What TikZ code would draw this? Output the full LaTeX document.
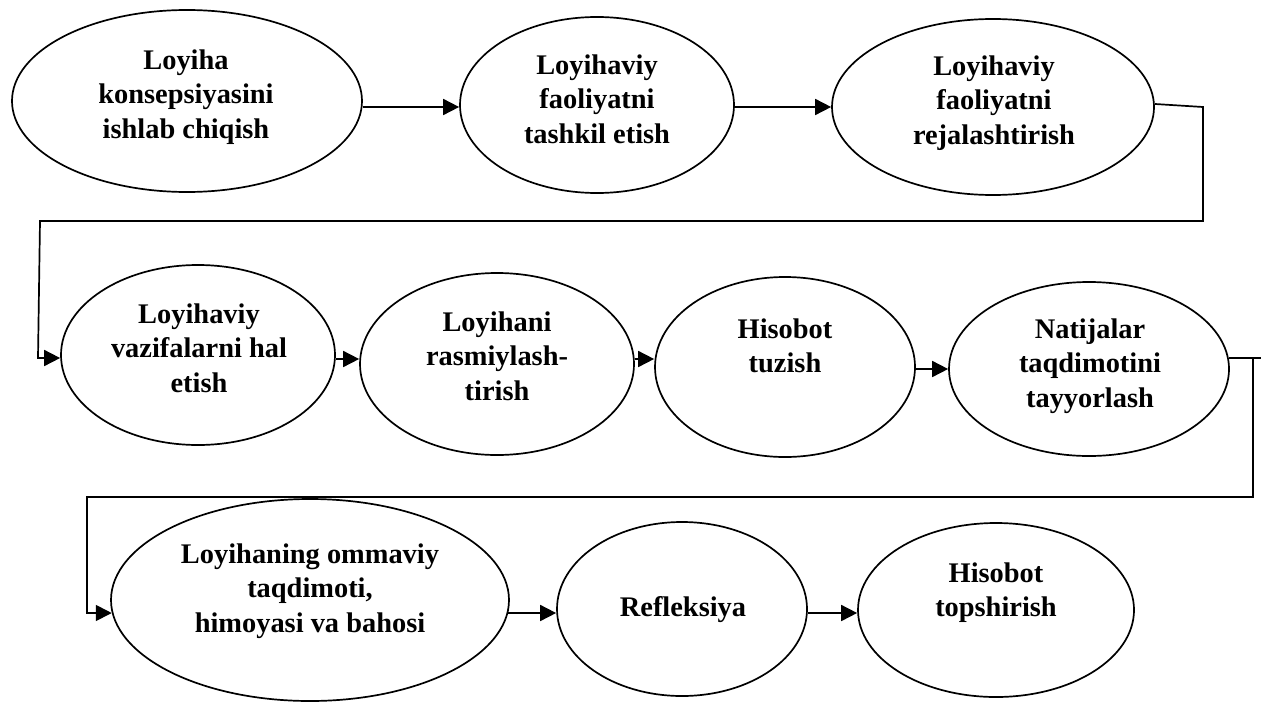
\documentclass[tikz,border=0pt]{standalone}
\usepackage{fontspec}
\setmainfont{Liberation Serif}
\usetikzlibrary{shapes.geometric,arrows.meta,calc}
\begin{document}
\begin{tikzpicture}[x=0.5pt,y=-0.5pt,
  blob/.style={ellipse,draw,line width=0.85pt,inner sep=0pt},
  txt/.style={anchor=north,align=center,inner sep=0pt,font=\fontsize{14.2}{17.25}\selectfont\bfseries},
  link/.style={line width=0.85pt},
  arr/.style={line width=0.85pt,-{Triangle[length=8pt,width=8pt]}}]
\fill[white] (0,0) rectangle (1261,701);
\useasboundingbox (0,0) rectangle (1261,701);
% ellipses
\node[blob,minimum width=175pt,minimum height=91pt] (e1) at (187,101) {};
\node[blob,minimum width=137pt,minimum height=88pt] (e2) at (597,105) {};
\node[blob,minimum width=161pt,minimum height=88pt] (e3) at (993,107) {};
\node[blob,minimum width=137pt,minimum height=90pt] (e4) at (198,355) {};
\node[blob,minimum width=137pt,minimum height=91pt] (e5) at (497,364) {};
\node[blob,minimum width=130pt,minimum height=90pt] (e6) at (785,367) {};
\node[blob,minimum width=140pt,minimum height=87pt] (e7) at (1089,369) {};
\node[blob,minimum width=199pt,minimum height=101pt] (e8) at (310,600) {};
\node[blob,minimum width=125pt,minimum height=87pt] (e9) at (682,609) {};
\node[blob,minimum width=138pt,minimum height=87pt] (e10) at (996,610) {};
% texts
\node[txt] (t1) at (186,49) {Loyiha\\konsepsiyasini\\ishlab chiqish};
\node[txt] (t2) at (597,54) {Loyihaviy\\faoliyatni\\tashkil etish};
\node[txt] (t3) at (994,55) {Loyihaviy\\faoliyatni\\rejalashtirish};
\node[txt] (t4) at (199,303) {Loyihaviy\\vazifalarni hal\\etish};
\node[txt] (t5) at (497,311) {Loyihani\\rasmiylash-\\tirish};
\node[txt] (t6) at (785,318) {Hisobot\\tuzish};
\node[txt] (t7) at (1090,318) {Natijalar\\taqdimotini\\tayyorlash};
\node[txt] (t8) at (310,543) {Loyihaning ommaviy\\taqdimoti,\\himoyasi va bahosi};
\node[txt] (t9) at (683,596) {Refleksiya};
\node[txt] (t10) at (996,562) {Hisobot\\topshirish};
% helper coordinates
\coordinate (y1) at (0,107);
\coordinate (y2) at (0,359);
\coordinate (y2b) at (0,369);
\coordinate (y3) at (0,613);
\coordinate (c0) at (0,104);
\coordinate (c1) at (1203,107);
\coordinate (c2) at (1203,221);
\coordinate (c3) at (40,221);
\coordinate (c4) at (38,358);
\coordinate (c5) at (1261,358);
\coordinate (c6) at (1253,358);
\coordinate (c7) at (1253,497);
\coordinate (c8) at (87,497);
\coordinate (c9) at (87,613);
% row 1
\draw[arr] (e1.east |- y1) -- (e2.west |- y1);
\draw[arr] (e2.east |- y1) -- (e3.west |- y1);
\draw[arr] (e3.east |- c0) -- (c1) -- (c2) -- (c3) -- (c4) -- (e4.west |- c4);
% row 2
\draw[arr] (e4.east |- y2) -- (e5.west |- y2);
\draw[arr] (e5.east |- y2) -- (e6.west |- y2);
\draw[arr] (e6.east |- y2b) -- (e7.west |- y2b);
\draw[link] ($(e7.east |- c5)+(-1.1,0)$) -- (c5);
\draw[arr] (c6) -- (c7) -- (c8) -- (c9) -- ($(e8.west |- c9)+(1.6,0)$);
% row 3
\draw[arr] ($(e8.east |- y3)+(-1.6,0)$) -- (e9.west |- y3);
\draw[arr] (e9.east |- y3) -- (e10.west |- y3);
\end{tikzpicture}
\end{document}
